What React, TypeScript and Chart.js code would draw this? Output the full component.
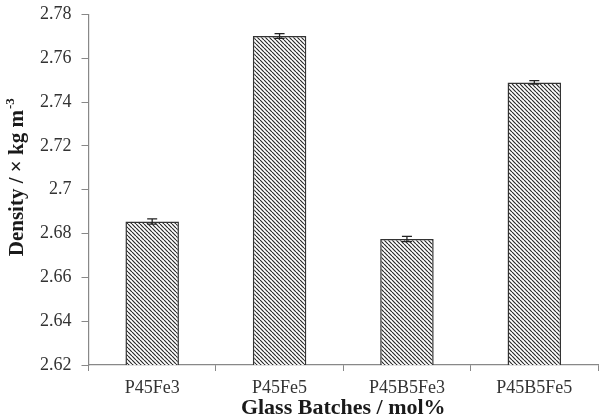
import React, { useEffect, useRef } from 'react';
import { Chart, registerables } from 'chart.js';

Chart.register(...registerables);

const categories = ['P45Fe3', 'P45Fe5', 'P45B5Fe3', 'P45B5Fe5'];
const densities = [2.6855, 2.7702, 2.6775, 2.7490];
const densityErrors = [0.0012, 0.0011, 0.0012, 0.0008];
const yMin = 2.62;
const yMax = 2.78;
const yStep = 0.02;
const xTitle = 'Glass Batches / mol%';
const yTitleMain = 'Density / \u00d7 kg m';
const yTitleSup = '-3';

const SERIF = "'Liberation Serif', 'Times New Roman', serif";

function makeHatch(): CanvasPattern | string {
  const c = document.createElement('canvas');
  const s = 4;
  c.width = s;
  c.height = s;
  const g = c.getContext('2d');
  if (!g) return '#888';
  g.fillStyle = '#ffffff';
  g.fillRect(0, 0, s, s);
  g.strokeStyle = '#2a2a2a';
  g.lineWidth = 1.2;
  g.beginPath();
  for (const k of [-s, 0, s]) {
    g.moveTo(k, 0);
    g.lineTo(k + s, s);
  }
  g.stroke();
  return g.createPattern(c, 'repeat') || '#888';
}

const errorBarPlugin = {
  id: 'errorBars',
  afterDatasetsDraw(chart: any) {
    const { ctx } = chart;
    const meta = chart.getDatasetMeta(0);
    const yScale = chart.scales.y;
    ctx.save();
    ctx.strokeStyle = '#222';
    ctx.lineWidth = 1.3;
    meta.data.forEach((bar: any, i: number) => {
      const v = densities[i];
      const e = densityErrors[i];
      const x = bar.x;
      const yt = yScale.getPixelForValue(v + e);
      const yb = yScale.getPixelForValue(v - e);
      ctx.beginPath();
      ctx.moveTo(x, yt);
      ctx.lineTo(x, yb);
      ctx.moveTo(x - 5, yt);
      ctx.lineTo(x + 5, yt);
      ctx.moveTo(x - 5, yb);
      ctx.lineTo(x + 5, yb);
      ctx.stroke();
    });
    ctx.restore();
  },
};

const yTitlePlugin = {
  id: 'yTitle',
  afterDraw(chart: any) {
    const { ctx, chartArea } = chart;
    ctx.save();
    const mainFont = `bold 21px ${SERIF}`;
    const supFont = `bold 13px ${SERIF}`;
    ctx.font = mainFont;
    const w1 = ctx.measureText(yTitleMain).width;
    ctx.font = supFont;
    const w2 = ctx.measureText(yTitleSup).width;
    const total = w1 + w2;
    const cy = (chartArea.top + chartArea.bottom) / 2 - 12;
    ctx.translate(18, cy);
    ctx.rotate(-Math.PI / 2);
    ctx.fillStyle = '#1a1a1a';
    ctx.textBaseline = 'middle';
    ctx.textAlign = 'left';
    ctx.font = mainFont;
    ctx.fillText(yTitleMain, -total / 2, 0);
    ctx.font = supFont;
    ctx.fillText(yTitleSup, -total / 2 + w1 + 1, -7);
    ctx.restore();
  },
};

export default function App() {
  const ref = useRef<HTMLCanvasElement | null>(null);
  useEffect(() => {
    if (!ref.current) return;
    const hatch = makeHatch();
    const chart = new Chart(ref.current, {
      type: 'bar',
      data: {
        labels: categories,
        datasets: [
          {
            data: densities,
            backgroundColor: hatch as any,
            borderColor: '#333',
            borderWidth: 1.5,
            borderSkipped: false,
            categoryPercentage: 1,
            barPercentage: 0.42,
          },
        ],
      },
      options: {
        responsive: false,
        animation: false,
        maintainAspectRatio: false,
        layout: { padding: { left: 30, right: 4, top: 13, bottom: 0 } },
        plugins: { legend: { display: false }, tooltip: { enabled: false } },
        scales: {
          x: {
            grid: {
              display: true,
              drawOnChartArea: false,
              drawTicks: true,
              tickLength: 6,
              color: '#888',
              offset: true,
            },
            border: { display: true, color: '#888', width: 1.2 },
            ticks: {
              color: '#333',
              font: { family: SERIF, size: 18 },
              padding: 6,
            },
            title: {
              display: true,
              text: xTitle,
              color: '#1a1a1a',
              font: { family: SERIF, size: 22, weight: 'bold' },
              padding: { top: -9, bottom: -3 },
            },
          },
          y: {
            min: yMin,
            max: yMax,
            grid: {
              display: true,
              drawOnChartArea: false,
              drawTicks: true,
              tickLength: 7,
              color: '#888',
            },
            border: { display: true, color: '#888', width: 1.2 },
            ticks: {
              stepSize: yStep,
              color: '#333',
              font: { family: SERIF, size: 18, lineHeight: 0.5 },
              padding: 10,
              callback: (v: any) => String(Number(Number(v).toFixed(2))),
            },
          },
        },
      },
      plugins: [errorBarPlugin, yTitlePlugin],
    });
    return () => chart.destroy();
  }, []);
  return (
    <div style={{ position: 'fixed', left: 0, top: 0, width: 602, height: 419, background: '#fff' }}>
      <canvas ref={ref} width={602} height={419} style={{ width: 602, height: 419 }} />
    </div>
  );
}
